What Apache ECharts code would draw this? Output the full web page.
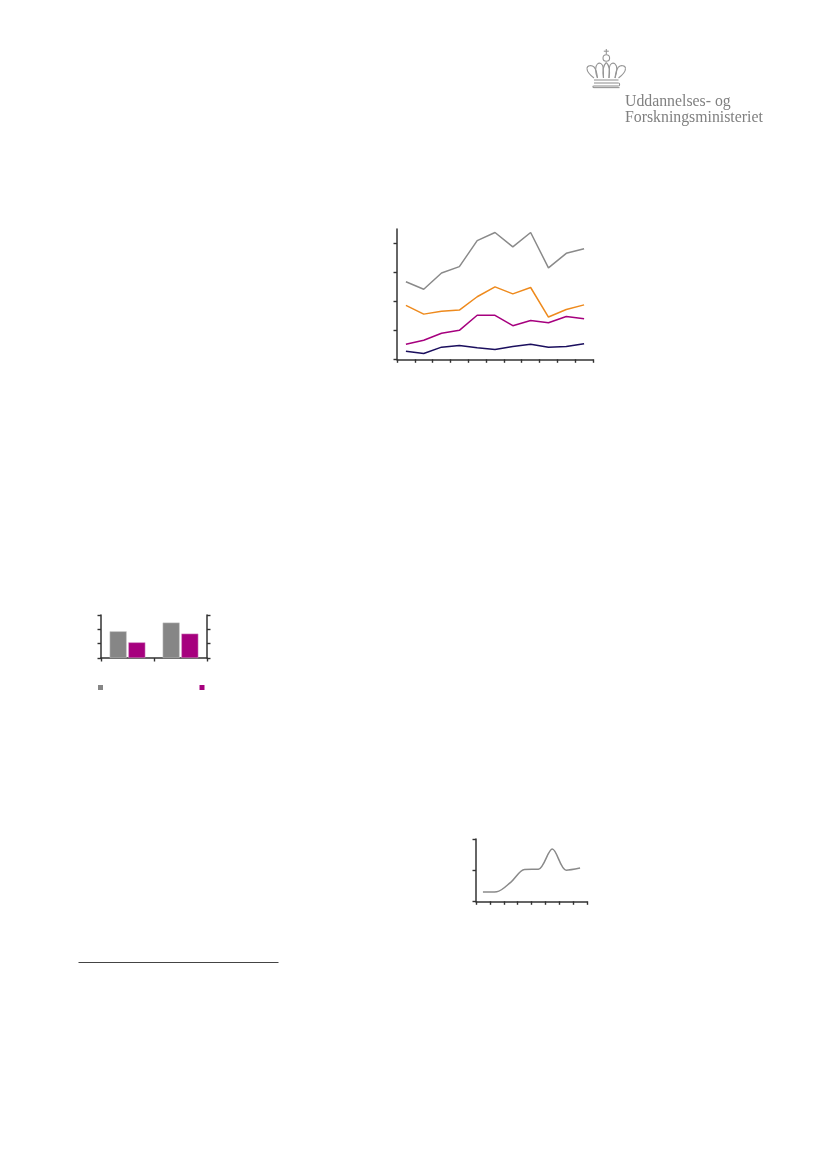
<!DOCTYPE html>
<html><head><meta charset="utf-8">
<style>html,body{margin:0;padding:0;background:#fff}#c{width:826px;height:1169px}</style>
<script src="https://cdn.jsdelivr.net/npm/echarts@6/dist/echarts.min.js"></script>
</head><body><div id="c"></div>
<script>
// Chart 1 (no visible labels in the reference)
const lineCats = ['1','2','3','4','5','6','7','8','9','10','11'];
const grayVals = [13.4,12.1,14.9,16.0,20.5,21.9,19.4,21.9,15.8,18.3,19.1];
const orangeVals = [9.3,7.8,8.3,8.5,10.8,12.5,11.3,12.4,7.3,8.6,9.4];
const magentaVals = [2.6,3.3,4.5,5.0,7.6,7.6,5.8,6.7,6.3,7.4,7.0];
const navyVals = [1.4,1.0,2.1,2.4,2.0,1.7,2.2,2.6,2.1,2.2,2.7];
// Chart 2
const barCats = ['A','B'];
const barGray = [1.86,2.47];
const barMagenta = [1.09,1.70];
// Chart 3
const curveCats = ['1','2','3','4','5','6','7','8'];
const curveVals = [0.30,0.31,0.61,1.02,1.03,1.68,1.00,1.07];

const GRAY='#8a8a8a', ORANGE='#EE8A1D', MAG='#A6007E', NAVY='#1B0F5E', AX='#333333';
const axLine={lineStyle:{color:AX,width:1.5}};
const plainTick={show:true,length:3.5,lineStyle:{color:AX,width:1.4}};
const tick=(vals)=>({...plainTick,customValues:vals});
const xBase={type:'category',axisLabel:{show:false},axisLine:axLine,splitLine:{show:false},axisTick:{...plainTick,alignWithLabel:false},boundaryGap:true};
const yBase={type:'value',min:0,axisLabel:{show:false},axisLine:{show:true,...axLine},splitLine:{show:false}};
const lineS=(name,data,color,xi,yi,extra)=>Object.assign({name,type:'line',data,xAxisIndex:xi,yAxisIndex:yi,showSymbol:false,symbol:'none',lineStyle:{color,width:1.5},itemStyle:{color},silent:true,animation:false},extra||{});

const chart=echarts.init(document.getElementById('c'),null,{width:826,height:1169});
const crownStroke={stroke:'#969696',lineWidth:1.1,fill:'none'};
const bz=(x1,y1,cpx1,cpy1,cpx2,cpy2,x2,y2)=>({type:'bezierCurve',silent:true,shape:{x1,y1,cpx1,cpy1,cpx2,cpy2,x2,y2},style:crownStroke});
const ln=(x1,y1,x2,y2)=>({type:'line',silent:true,shape:{x1,y1,x2,y2},style:crownStroke});
const crownParts=[
 ln(606.3,49,606.3,54.5), ln(603.8,51.2,608.8,51.2),
 {type:'circle',silent:true,shape:{cx:606.3,cy:58,r:3.3},style:crownStroke},
 bz(594,78,590,75,587,71,587,68.5), bz(587,68.5,587,65,592,65,594,67), bz(594,67,596,69,597,74,597.5,78),
 bz(597.5,78,595,72,595,66,597.5,63.8), bz(597.5,63.8,600,62,602.5,64,603,67), bz(603,67,603.5,71,603.5,75,603.5,78),
 bz(603.5,78,602.5,72,603,65.5,606.3,62.5), bz(606.3,62.5,609.5,65.5,610,72,609,78),
 bz(609,78,609,75,609,71,609.5,67), bz(609.5,67,610,64,612.5,62,615,63.8), bz(615,63.8,617.5,66,617,72,615,78),
 bz(615,78,615.5,74,616.5,69,618.5,67), bz(618.5,67,620.5,65,625.5,65,625.5,68.5), bz(625.5,68.5,625.5,71,622.5,75,618.5,78),
 ln(594,80,618.5,80),
 ln(594,83,618.5,83),
 bz(618.5,83,620,83,620,86,618.5,86), ln(594,86,618.5,86),
 bz(594,86,592.5,86,592.5,87.6,594,87.6), ln(594,87.6,619.5,87.6)
];

chart.setOption({
 animation:false,
 backgroundColor:'#ffffff',
 grid:[
  {left:397,top:229,width:196,height:130.3,containLabel:false},
  {left:101,top:615,width:106,height:43,containLabel:false},
  {left:476,top:839,width:111,height:62.3,containLabel:false}
 ],
 xAxis:[
  {...xBase,gridIndex:0,data:lineCats},
  {...xBase,gridIndex:1,data:barCats},
  {...xBase,gridIndex:2,data:curveCats}
 ],
 yAxis:[
  {...yBase,gridIndex:0,max:22.5,interval:5,axisTick:tick([0,5,10,15,20])},
  {...yBase,gridIndex:1,max:3,interval:1,axisTick:plainTick},
  {...yBase,gridIndex:1,max:3,interval:1,position:'right',axisTick:plainTick},
  {...yBase,gridIndex:2,max:2,interval:1,axisTick:plainTick}
 ],
 legend:[
  {data:['Serie A'],left:98,top:685,itemWidth:5,itemHeight:5,itemGap:0,icon:'rect',formatter:()=>'',selectedMode:false,padding:0,itemStyle:{borderWidth:0}},
  {data:['Serie B'],left:199.5,top:685,itemWidth:5,itemHeight:5,itemGap:0,icon:'rect',formatter:()=>'',selectedMode:false,padding:0,itemStyle:{borderWidth:0}}
 ],
 tooltip:{show:false},
 series:[
  lineS('Grå',grayVals,GRAY,0,0),
  lineS('Orange',orangeVals,ORANGE,0,0),
  lineS('Magenta',magentaVals,MAG,0,0),
  lineS('Navy',navyVals,NAVY,0,0),
  {name:'Serie A',type:'bar',data:barGray,xAxisIndex:1,yAxisIndex:1,barWidth:17,barGap:'10%',itemStyle:{color:'#868686',borderColor:'#c9c9c9',borderWidth:0.5},silent:true},
  {name:'Serie B',type:'bar',data:barMagenta,xAxisIndex:1,yAxisIndex:2,barWidth:17,barGap:'10%',itemStyle:{color:MAG,borderColor:'#d9a0cc',borderWidth:0.5},silent:true},
  lineS('Kurve',curveVals,GRAY,2,3,{smooth:0.32})
 ],
 graphic:[
  ...crownParts,
  {type:'line',silent:true,shape:{x1:78.5,y1:962.5,x2:278.5,y2:962.5},style:{stroke:'#444',lineWidth:1}},
  {type:'text',silent:true,style:{x:625,y:101.5,text:'Uddannelses- og',fontFamily:'"Liberation Serif"',fontSize:15.8,fill:'#808080',verticalAlign:'middle'}},
  {type:'text',silent:true,style:{x:625,y:117.5,text:'Forskningsministeriet',fontFamily:'"Liberation Serif"',fontSize:15.8,fill:'#808080',verticalAlign:'middle'}}
 ]
});
</script></body></html>
